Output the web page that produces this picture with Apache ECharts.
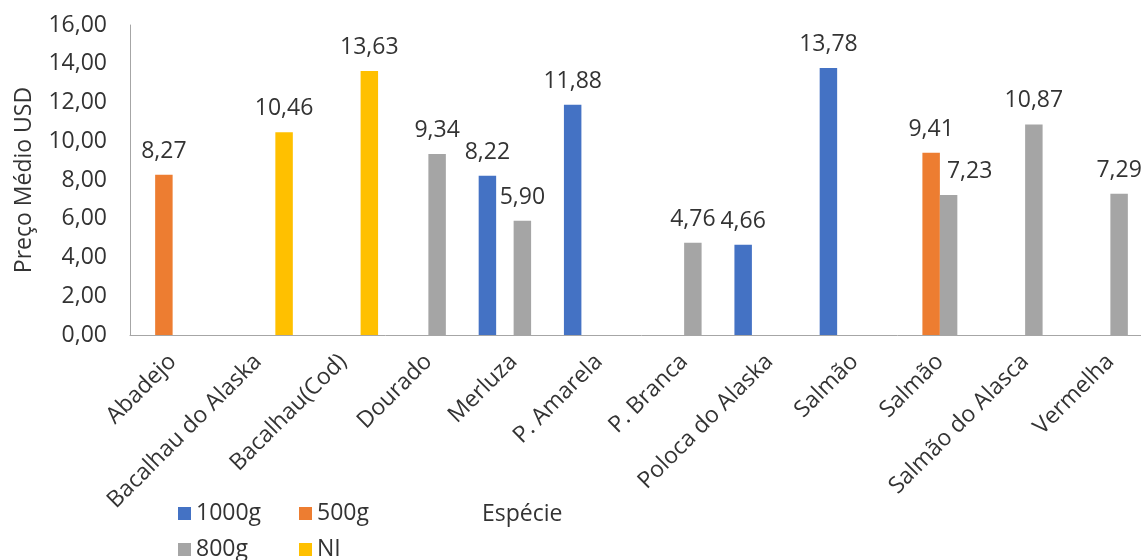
<!DOCTYPE html>
<html>
<head>
<meta charset="utf-8">
<script src="https://cdn.jsdelivr.net/npm/echarts@6/dist/echarts.min.js"></script>
<style>
html,body{margin:0;padding:0;background:#fff;overflow:hidden;width:1141px;height:560px;}
#chart{width:1153px;height:560px;}
</style>
</head>
<body>
<div id="chart"></div>
<script>
const categories = ['Abadejo','Bacalhau do Alaska','Bacalhau(Cod)','Dourado','Merluza','P. Amarela','P. Branca','Poloca do Alaska','Salmão','Salmão','Salmão do Alasca','Vermelha'];
const seriesNames = ['1000g','500g','800g','NI'];
const s1000g = [null,null,null,null,8.22,11.88,null,4.66,13.78,null,null,null];
const s500g  = [8.27,null,null,null,null,null,null,null,null,9.41,null,null];
const s800g  = [null,null,null,9.34,5.90,null,4.76,null,null,7.23,10.87,7.29];
const sNI    = [null,10.46,13.63,null,null,null,null,null,null,null,null,null];
const yTicks = [0,2,4,6,8,10,12,14,16];
const colors = ['#4472C4','#ED7D31','#A5A5A5','#FFC000'];

const FONT = '"Open Sans", sans-serif';
const TXT = '#333333';
const FS = 23;
const fmt = v => Number(v).toFixed(2).replace('.', ',');

const dataSets = [s1000g, s500g, s800g, sNI];
const series = dataSets.map((d, i) => ({
  name: seriesNames[i],
  type: 'bar',
  data: d.map((v, j) => {
    // the 800g label of the second "Salmão" is nudged right (as in the source) to clear the 500g bar
    if (i === 2 && j === 9) return {value: v, label: {offset: [21, 0]}};
    return v;
  }),
  barGap: '0%',
  barCategoryGap: '18%',
  itemStyle: {color: colors[i]},
  label: {
    show: true, position: 'top', distance: 12,
    formatter: p => fmt(p.value),
    fontFamily: FONT, fontSize: FS, color: TXT
  }
}));

const legendPos = [[178,502],[299,502],[178,538],[299,538]];
const legends = seriesNames.map((n, i) => ({
  data: [n], left: legendPos[i][0], top: legendPos[i][1],
  orient: 'horizontal', padding: 0,
  icon: 'rect', itemWidth: 13, itemHeight: 13, itemGap: 0,
  textStyle: {fontFamily: FONT, fontSize: FS, color: TXT, padding: [0,0,0,0]},
  selectedMode: false
}));

const chart = echarts.init(document.getElementById('chart'));
chart.setOption({
  animation: false,
  backgroundColor: '#fff',
  color: colors,
  title: {
    text: 'Espécie', left: 482, top: 503, padding: 0,
    textStyle: {fontFamily: FONT, fontSize: FS, fontWeight: 'normal', color: TXT}
  },
  legend: legends,
  grid: {left: 130, top: 25, right: 0, height: 310, containLabel: false},
  xAxis: {
    type: 'category',
    data: categories,
    axisLine: {show: true, lineStyle: {color: '#a6a6a6', width: 1}},
    axisTick: {show: false},
    axisLabel: {
      interval: 0, rotate: 45, margin: 23,
      fontFamily: FONT, fontSize: FS, color: TXT
    },
    splitLine: {show: false}
  },
  yAxis: {
    type: 'value',
    min: yTicks[0], max: yTicks[yTicks.length - 1], interval: 2,
    name: 'Preço Médio USD',
    nameLocation: 'middle', nameGap: 94,
    nameTextStyle: {fontFamily: FONT, fontSize: FS, color: TXT},
    axisLine: {show: true, lineStyle: {color: '#a6a6a6', width: 1}},
    axisTick: {show: false},
    splitLine: {show: false},
    axisLabel: {
      margin: 23, formatter: v => fmt(v),
      fontFamily: FONT, fontSize: FS, color: TXT
    }
  },
  series: series
});
</script>
</body>
</html>
